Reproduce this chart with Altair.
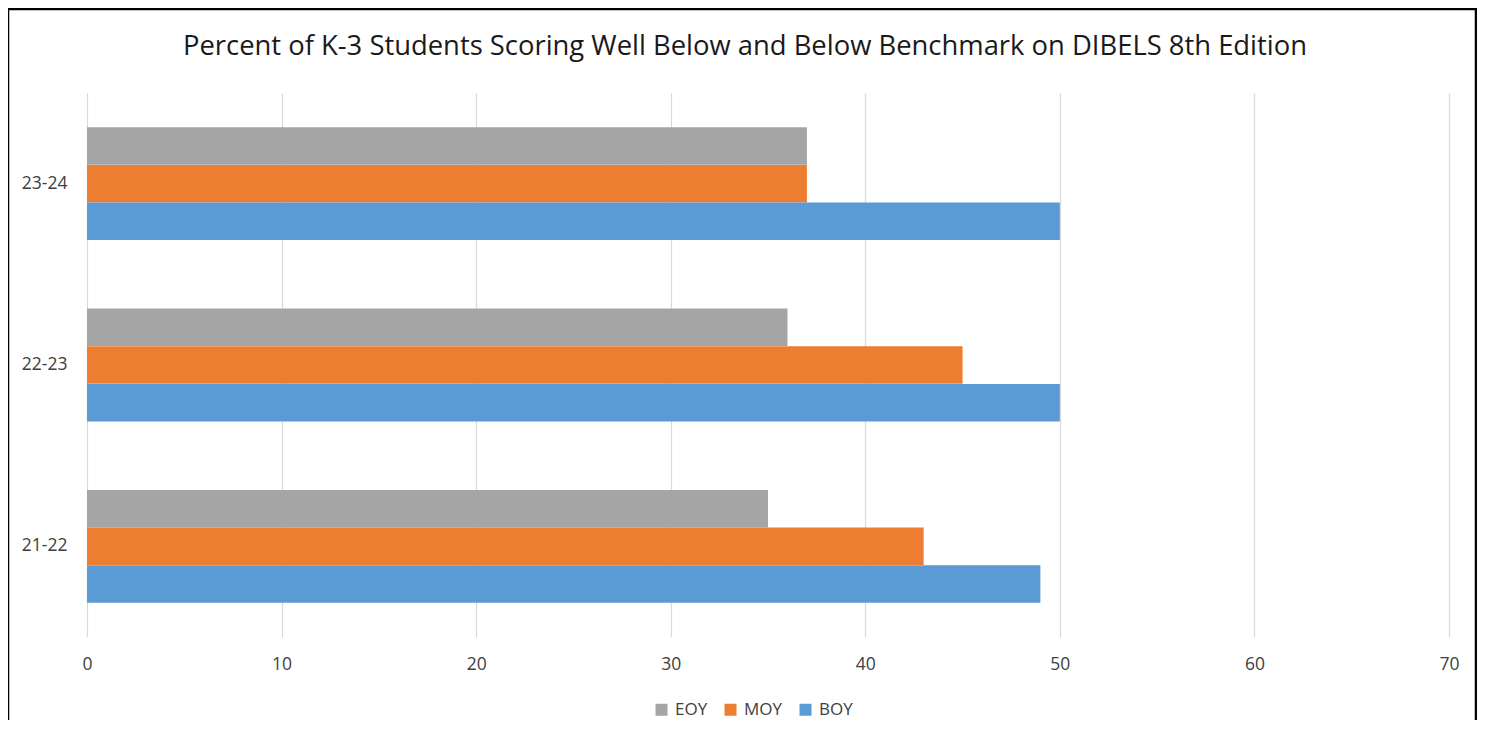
import altair as alt
import pandas as pd

years = ["23-24", "22-23", "21-22"]
series = ["EOY", "MOY", "BOY"]
colors = ["#A5A5A5", "#ED7D31", "#5B9BD5"]
eoy = [37, 36, 35]
moy = [37, 45, 43]
boy = [50, 50, 49]
x_ticks = [0, 10, 20, 30, 40, 50, 60, 70]
title_text = "Percent of K-3 Students Scoring Well Below and Below Benchmark on DIBELS 8th Edition"

rows = []
for i, y in enumerate(years):
    for s, vals in zip(series, [eoy, moy, boy]):
        rows.append({"year": y, "period": s, "value": vals[i]})
df = pd.DataFrame(rows)

W, H = 1362, 544
FONT = "Open Sans"
LBL = "#404040"

bars = alt.Chart(df).mark_bar(size=37.5).encode(
    x=alt.X("value:Q", scale=alt.Scale(domain=[0, 70], nice=False),
            axis=alt.Axis(values=x_ticks, title=None, grid=True, gridColor="#D9D9D9",
                          gridWidth=1.2, domain=False, ticks=False, labelPadding=18,
                          labelFlush=False,
                          labelFontSize=17.5, labelColor=LBL, labelFont=FONT)),
    y=alt.Y("year:N", sort=years,
            scale=alt.Scale(paddingInner=0.377, paddingOuter=0.1885),
            axis=alt.Axis(title=None, domain=False, ticks=False, labelPadding=20,
                          labelFontSize=17.5, labelColor=LBL, labelFont=FONT)),
    yOffset=alt.YOffset("period:N", sort=series),
    color=alt.Color("period:N", scale=alt.Scale(domain=series, range=colors),
                    legend=alt.Legend(title=None, orient="none", direction="horizontal",
                                      legendX=566, legendY=608, symbolType="square",
                                      symbolSize=144, symbolStrokeWidth=0,
                                      labelFontSize=17, labelColor=LBL, labelFont=FONT,
                                      columnPadding=14, labelOffset=5)),
)

border = alt.Chart(pd.DataFrame({"a": [0]})).mark_rect(
    fill=None, stroke="black", strokeWidth=2.5, clip=False
).encode(x=alt.value(-79), x2=alt.value(1389), y=alt.value(-84), y2=alt.value(660))

title = alt.Chart(pd.DataFrame({"t": [title_text]})).mark_text(
    fontSize=27.4, font=FONT, color="#1a1a1a", align="center", baseline="middle"
).encode(text="t:N", x=alt.value(658), y=alt.value(-46))

chart = alt.layer(bars, title, border).properties(
    width=W, height=H,
    autosize=alt.AutoSizeParams(type="none"),
    padding={"left": 79, "top": 85, "right": 28, "bottom": 83},
).configure(background="white", view=alt.ViewConfig(strokeWidth=0, stroke="transparent"))

chart.save("out.html", embed_options={"renderer": "svg", "actions": False})
